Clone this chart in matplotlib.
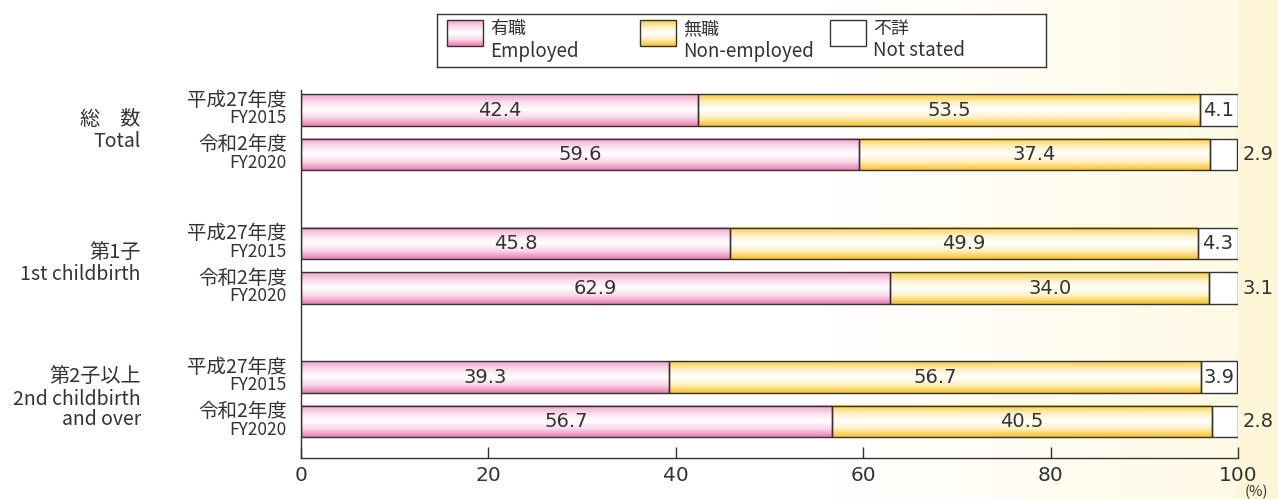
import matplotlib
matplotlib.use("Agg")
import matplotlib.pyplot as plt
from matplotlib.colors import LinearSegmentedColormap, to_rgb
import numpy as np

plt.rcParams['font.family'] = ['Noto Sans CJK JP', 'DejaVu Sans']

# data
groups_jp = ["総　数", "第1子", "第2子以上"]
groups_en = ["Total", "1st childbirth", "2nd childbirth\nand over"]
years_jp = ["平成27年度", "令和2年度"]
years_en = ["FY2015", "FY2020"]
employed = [42.4, 59.6, 45.8, 62.9, 39.3, 56.7]
non_employed = [53.5, 37.4, 49.9, 34.0, 56.7, 40.5]
not_stated = [4.1, 2.9, 4.3, 3.1, 3.9, 2.8]
legend_jp = ["有職", "無職", "不詳"]
legend_en = ["Employed", "Non-employed", "Not stated"]
xticks = [0, 20, 40, 60, 80, 100]

TXT = "#333333"
NUM = ['DejaVu Sans']
pink_cmap = LinearSegmentedColormap.from_list(
    "pink", ["#f0a2c8", "#fbdcec", "#ffffff", "#fad6e8", "#e77cb1"])
yellow_cmap = LinearSegmentedColormap.from_list(
    "yel", ["#f9cb3c", "#fff0c2", "#ffffff", "#ffefbd", "#f6c128"])
grad = np.linspace(0, 1, 64).reshape(-1, 1)

fig = plt.figure(figsize=(12.78, 4.99), dpi=100)

# background: white fading to pale yellow on the right
bg = fig.add_axes([0, 0, 1, 1], zorder=-10)
xs = np.linspace(0, 1278, 1278)
w = np.clip((xs - 830) / (1236 - 830), 0, 1)
c0 = np.array(to_rgb("#ffffff"))
c1 = np.array(to_rgb("#fffae6"))
c2 = np.array(to_rgb("#fff6d8"))
row = c0[None, :] * (1 - w[:, None]) + c1[None, :] * w[:, None]
row[xs >= 1237] = c2
bg.imshow(row[None, :, :], aspect="auto", extent=[0, 1, 0, 1])
bg.set_xlim(0, 1)
bg.set_ylim(0, 1)
bg.axis("off")

ax = fig.add_axes([301 / 1278, 41 / 499, 937 / 1278, 368 / 499])
ax.set_facecolor("none")

pos = []
for g in range(len(groups_jp)):
    for j in range(len(years_jp)):
        pos.append(g * 3 + j)
pos = np.array(pos)
h = 0.71

def gradient_bars(bars, cmap):
    for b in bars:
        x0, y0 = b.get_x(), b.get_y()
        ax.imshow(grad, cmap=cmap, aspect="auto", interpolation="bilinear",
                  extent=[x0, x0 + b.get_width(), y0 + b.get_height(), y0], zorder=1)

emp = np.array(employed)
non = np.array(non_employed)
ns = np.array(not_stated)
b1 = ax.barh(pos, emp, height=h, color="none", edgecolor="#333333", linewidth=1, zorder=2)
b2 = ax.barh(pos, non, left=emp, height=h, color="none", edgecolor="#333333", linewidth=1, zorder=2)
b3 = ax.barh(pos, ns, left=emp + non, height=h, color="white", edgecolor="#333333", linewidth=1, zorder=1.5)
gradient_bars(b1, pink_cmap)
gradient_bars(b2, yellow_cmap)

for p, e, n, s in zip(pos, emp, non, ns):
    kw = dict(va="center", fontsize=14, color=TXT, zorder=3, family=NUM)
    ax.text(e / 2, p, f"{e:.1f}", ha="center", **kw)
    ax.text(e + n / 2, p, f"{n:.1f}", ha="center", **kw)
    if s >= 3.5:
        ax.text(e + n + s / 2, p, f"{s:.1f}", ha="center", **kw)
    else:
        ax.text(100.5, p, f"{s:.1f}", ha="left", **kw)

ax.set_xlim(0, 100)
ax.set_ylim(7.82, -0.45)
ax.set_xticks(xticks)
ax.set_xticklabels([str(t) for t in xticks], fontsize=14.5, color=TXT, family=NUM)
ax.tick_params(axis="x", direction="in", length=8, width=1, color="#333333", pad=6)
ax.set_yticks([])
for sp in ["top", "right"]:
    ax.spines[sp].set_visible(False)
for sp in ["left", "bottom"]:
    ax.spines[sp].set_color("#333333")
    ax.spines[sp].set_linewidth(1)

tr = ax.get_yaxis_transform()
for i, p in enumerate(pos):
    j = i % len(years_jp)
    ax.annotate(years_jp[j], (-0.015, p), xycoords=tr, xytext=(0, 7.2),
                textcoords="offset points", ha="right", va="center",
                fontsize=14, color=TXT)
    ax.annotate(years_en[j], (-0.015, p), xycoords=tr, xytext=(0, -6),
                textcoords="offset points", ha="right", va="center",
                fontsize=12.5, color=TXT)
for g, (jp, en) in enumerate(zip(groups_jp, groups_en)):
    extra = en.count("\n") * 6.5
    yc = g * 3 + 0.5
    ax.annotate(jp, (-0.171, yc), xycoords=tr, xytext=(0, 1.5 + extra),
                textcoords="offset points", ha="right", va="bottom",
                fontsize=14.5, color=TXT)
    ax.annotate(en, (-0.171, yc), xycoords=tr, xytext=(0, 1 + extra),
                textcoords="offset points", ha="right", va="top",
                fontsize=14, color=TXT, linespacing=0.95, multialignment="right")

fig.text(1256 / 1278, 0.0, "(%)", ha="center", va="bottom", fontsize=10.5, color=TXT)

# legend box
lg = fig.add_axes([437 / 1278, (499 - 67) / 499, 609 / 1278, 53 / 499])
lg.set_xticks([])
lg.set_yticks([])
for sp in lg.spines.values():
    sp.set_color("#333333")
    sp.set_linewidth(1)
lg.set_facecolor("white")
cmaps = [pink_cmap, yellow_cmap, None]
starts = [10, 203, 393]
for x0, cm, jp, en in zip(starts, cmaps, legend_jp, legend_en):
    if cm is not None:
        lg.imshow(grad, cmap=cm, aspect="auto", interpolation="bilinear",
                  extent=[x0, x0 + 36, 32, 6])
    lg.add_patch(plt.Rectangle((x0, 6), 36, 26, facecolor="none",
                               edgecolor="#333333", linewidth=1))
    lg.text(x0 + 43, 15, jp, ha="left", va="center", fontsize=13, color=TXT)
    lg.text(x0 + 43, 37, en, ha="left", va="center", fontsize=13.5, color=TXT)
lg.set_xlim(0, 609)
lg.set_ylim(53, 0)

fig.savefig("out.png", dpi=100)
